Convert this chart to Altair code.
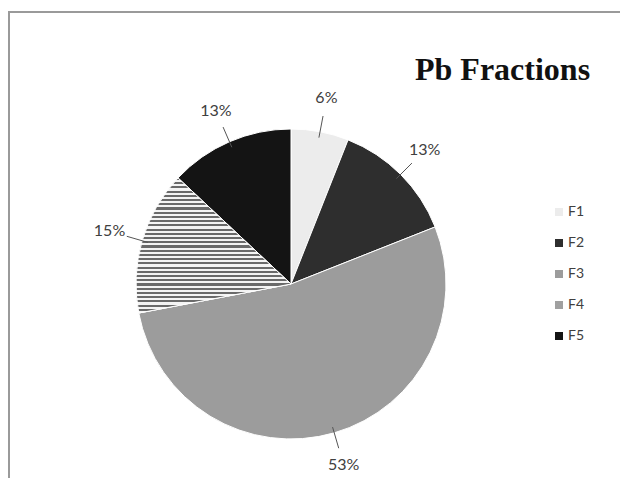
import altair as alt
import pandas as pd

categories = ["F1", "F2", "F3", "F4", "F5"]
percents = [6, 13, 53, 15, 13]
title_text = "Pb Fractions"

df = pd.DataFrame({"fraction": categories, "pct": percents})

CX, CY, R = 283, 276, 155

# horizontal stripe gradient for F4 (pattern imitation)
n = 32
stops = []
for i in range(n):
    a, m, b = i / n, (i + 0.5) / n, (i + 1) / n
    stops += [{"offset": a, "color": "#6a6a6a"}, {"offset": m, "color": "#6a6a6a"},
              {"offset": m, "color": "#f4f4f4"}, {"offset": b, "color": "#f4f4f4"}]
stripes = alt.LinearGradient(gradient="linear", x1=0, y1=0, x2=0, y2=1, stops=stops)

base = alt.Chart(df).transform_window(
    cum="sum(pct)", sort=[alt.SortField("fraction")], frame=[None, 0]
).transform_calculate(
    start="datum.cum - datum.pct",
    end="datum.cum",
    mid="(datum.cum - datum.pct / 2) / 100 * 2 * PI",
    label="datum.pct + '%'",
)

theta = alt.Theta("start:Q", scale=alt.Scale(domain=[0, 100]))

arcs = base.mark_arc(outerRadius=R, stroke="white", strokeWidth=1).encode(
    theta=theta,
    theta2="end:Q",
    x=alt.value(CX),
    y=alt.value(CY),
    color=alt.Color(
        "fraction:N",
        scale=alt.Scale(domain=categories,
                        range=["#ececec", "#2e2e2e", "#9c9c9c", "#a0a0a0", "#141414"]),
        legend=alt.Legend(
            title=None, orient="none", legendX=544, legendY=197, padding=0,
            symbolType="square", symbolSize=64, symbolStrokeWidth=0,
            labelFont="Lato", labelFontSize=14, labelColor="#404040",
            labelOffset=2, rowPadding=17,
        ),
    ),
)

f4 = base.transform_filter("datum.fraction == 'F4'").mark_arc(
    outerRadius=R, stroke="white", strokeWidth=1, fill=stripes
).encode(theta=theta, theta2="end:Q", x=alt.value(CX), y=alt.value(CY))

leaders = base.transform_calculate(
    lx1=f"{CX} + {R - 6} * sin(datum.mid)",
    ly1=f"{CY} - {R - 6} * cos(datum.mid)",
    lx2=f"{CX} + {R + 16} * sin(datum.mid)",
    ly2=f"{CY} - {R + 16} * cos(datum.mid)",
).mark_rule(color="#555555", strokeWidth=1).encode(
    x=alt.X("lx1:Q", scale=None), y=alt.Y("ly1:Q", scale=None),
    x2="lx2:Q", y2="ly2:Q",
)

labels = base.transform_calculate(
    tx=f"{CX} + {R + 34} * sin(datum.mid)",
    ty=f"{CY} - {R + 34} * cos(datum.mid)",
).mark_text(font="Lato", fontSize=16, color="#404040", align="center", baseline="middle").encode(
    x=alt.X("tx:Q", scale=None), y=alt.Y("ty:Q", scale=None), text="label:N",
)

frame_data = alt.Data(values=[{"k": 1}])
frame_box = alt.Chart(frame_data).mark_rect(
    fill="transparent", stroke="#9a9a9a", strokeWidth=2
).encode(x=alt.value(1), x2=alt.value(900), y=alt.value(4), y2=alt.value(900))

chart = alt.layer(frame_box, arcs, f4, leaders, labels).properties(
    width=612,
    height=470,
    autosize=alt.AutoSizeParams(type="none"),
    padding=0,
    background="white",
    title=alt.Title(
        title_text, font="Liberation Serif", fontSize=32, fontWeight="bold",
        color="#111111", anchor="start", frame="group", orient="top",
        offset=0, dx=407, dy=104, baseline="alphabetic",
    ),
).configure_view(stroke="transparent", strokeWidth=0)

chart.save("out.html", embed_options={"renderer": "svg", "actions": False})
